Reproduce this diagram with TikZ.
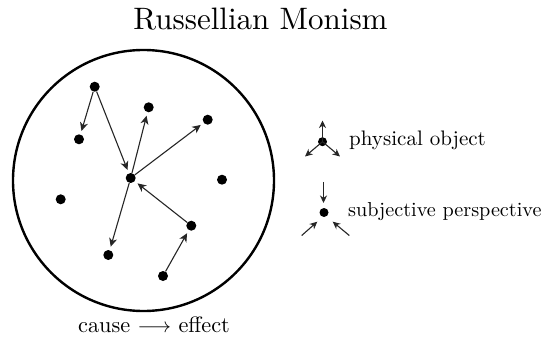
\documentclass[tikz,border=0pt]{standalone}
\usepackage{fontspec}
\setmainfont{lmroman10-regular.otf}
\usetikzlibrary{arrows.meta}
\begin{document}
\begin{tikzpicture}[x=1pt,y=-1pt,
  dot/.style={circle,fill=black,inner sep=0pt,minimum size=10pt},
  ldot/.style={circle,fill=black,inner sep=0pt,minimum size=9pt},
  cause/.style={-{Stealth[length=8.5pt,width=8pt,inset=2.5pt]},line width=1.1pt,black!85,shorten >=3.5pt},
  lcause/.style={-{Stealth[length=7.5pt,width=7pt,inset=2.3pt]},line width=1.1pt,black!85},
  lbl/.style={font=\fontsize{21}{25}\selectfont,inner sep=0pt}]
\useasboundingbox (0,0) rectangle (543,339);
% title
\node[font=\fontsize{31}{36}\selectfont,inner sep=0pt,anchor=base] (title) at (260.5,29.5) {Russellian Monism};
% big circle
\node[circle,draw,line width=2.4pt,minimum size=261pt,inner sep=0pt] (world) at (143.5,180.5) {};
% dots
\node[dot] (A) at (94.7,86.7) {};
\node[dot] (B) at (79,139.3) {};
\node[dot] (C) at (148.7,107.3) {};
\node[dot] (D) at (207.7,119.7) {};
\node[dot] (E) at (130.7,178) {};
\node[dot] (F) at (222,179.7) {};
\node[dot] (G) at (60.7,199.3) {};
\node[dot] (H) at (191.3,225.7) {};
\node[dot] (I) at (108.3,255) {};
\node[dot] (J) at (163,276) {};
% causal arrows
\draw[cause] (A) -- (B);
\draw[cause] (A) -- (E);
\draw[cause] (E) -- (C);
\draw[cause] (E) -- (D);
\draw[cause] (E) -- (I);
\draw[cause] (H) -- (E);
\draw[cause] (J) -- (H);
% legend: physical object
\node[ldot] (P) at (322.5,141.7) {};
\coordinate (Pu) at (322.5,120.5);
\coordinate (Pl) at (305,156.5);
\coordinate (Pr) at (340,156.5);
\draw[lcause] (P.center) -- (Pu);
\draw[lcause] (P.center) -- (Pl);
\draw[lcause] (P.center) -- (Pr);
\node[lbl,anchor=base west] (plabel) at (349,145.7) {physical object};
% legend: subjective perspective
\node[ldot] (S) at (324,212.5) {};
\coordinate (Su) at (323.5,182);
\coordinate (Sue) at (323.5,203);
\coordinate (Sl) at (301.7,235.5);
\coordinate (Sle) at (317.3,221.7);
\coordinate (Sr) at (349.3,235.5);
\coordinate (Sre) at (332.7,221.7);
\draw[lcause] (Su) -- (Sue);
\draw[lcause] (Sl) -- (Sle);
\draw[lcause] (Sr) -- (Sre);
\node[lbl,font=\fontsize{20.2}{24}\selectfont,anchor=base west] (slabel) at (348,216.5) {subjective perspective};
% cause -> effect key
\node[lbl,font=\fontsize{22.3}{26}\selectfont,anchor=base] (key) at (154,332) {cause $\longrightarrow$ effect};
\end{tikzpicture}
\end{document}
